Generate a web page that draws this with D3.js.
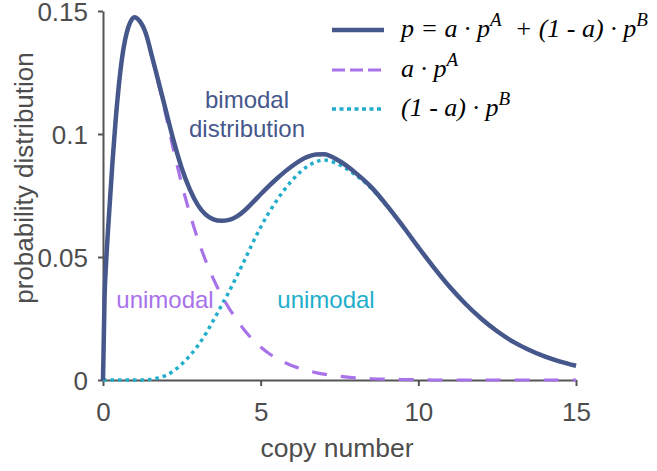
<!DOCTYPE html>
<html>
<head>
<meta charset="utf-8">
<script src="https://cdn.jsdelivr.net/npm/d3@7"></script>
<style>
  html, body { margin: 0; padding: 0; background: #fff; }
  svg { display: block; }
</style>
</head>
<body>
<svg id="chart" width="657" height="471"></svg>
<script>
// copy-number grid shared by all three curves
const copyNumber = [0, 0.05, 0.1, 0.2, 0.3, 0.4, 0.5, 0.6, 0.7, 0.8, 0.9,
  1.0, 1.1, 1.2, 1.3, 1.4, 1.5,
  1.75, 2.0, 2.25, 2.5, 2.75, 3.0, 3.25, 3.5, 3.75, 4.0, 4.25, 4.5, 4.75,
  5.0, 5.25, 5.5, 5.75, 6.0, 6.25, 6.5, 6.75, 7.0,
  7.5, 8.0, 8.5, 9.0, 9.5, 10, 10.5, 11, 11.5, 12, 12.5, 13, 13.5, 14, 14.5, 15];

// p = a·pA + (1 - a)·pB  (bimodal mixture)
const mixture = [0, 0.034, 0.048, 0.069, 0.0885, 0.1055, 0.1195, 0.1305, 0.1382, 0.1433, 0.1463,
  0.1475, 0.1468, 0.1452, 0.1428, 0.1392, 0.1342,
  0.1218, 0.1092, 0.0968, 0.0860, 0.0776, 0.0713, 0.0673, 0.0653, 0.0647, 0.0651, 0.0665, 0.0690, 0.0722,
  0.0755, 0.0787, 0.0817, 0.0845, 0.0870, 0.0892, 0.0908, 0.0917, 0.0918,
  0.0890, 0.0843, 0.0785, 0.0710, 0.0627, 0.0540, 0.0456, 0.0378, 0.0309, 0.0249, 0.0198, 0.0156, 0.0123, 0.0096, 0.0075, 0.0058];

// a·pA  (low copy-number mode)
const componentA = [0, 0.034, 0.048, 0.069, 0.0885, 0.1055, 0.1195, 0.1305, 0.1382, 0.1433, 0.1463,
  0.1475, 0.1468, 0.1452, 0.1428, 0.1391, 0.1340,
  0.1210, 0.1073, 0.0928, 0.0795, 0.0678, 0.0575, 0.0487, 0.0411, 0.0346, 0.0291, 0.0243, 0.0200, 0.0164,
  0.0134, 0.0109, 0.0089, 0.0072, 0.0058, 0.0047, 0.0038, 0.0030, 0.0024,
  0.0015, 0.0009, 0.0005, 0.0003, 0.0002, 0.0001, 0, 0, 0, 0, 0, 0, 0, 0, 0, 0];

// (1 - a)·pB  (high copy-number mode)
const componentB = [0, 0, 0, 0, 0, 0, 0, 0, 0, 0, 0,
  0, 0, 0.00003, 0.00006, 0.0001, 0.0002,
  0.0008, 0.0019, 0.0038, 0.0065, 0.0098, 0.0138, 0.0186, 0.0242, 0.0301, 0.0360, 0.0424, 0.0490, 0.0558,
  0.0621, 0.0678, 0.0728, 0.0773, 0.0812, 0.0845, 0.0870, 0.0887, 0.0894,
  0.0875, 0.0834, 0.0780, 0.0707, 0.0625, 0.0539, 0.0456, 0.0378, 0.0309, 0.0249, 0.0198, 0.0156, 0.0123, 0.0096, 0.0075, 0.0058];

const xTicks = [0, 5, 10, 15];
const xTickLabels = ["0", "5", "10", "15"];
const yTicks = [0, 0.05, 0.1, 0.15];
const yTickLabels = ["0", "0.05", "0.1", "0.15"];

const COLOR_MIX = "#46578c";
const COLOR_A = "#a872ea";
const COLOR_B = "#22aecb";
const AXIS = "#545454";
const SANS = "'Liberation Sans', Arial, Helvetica, sans-serif";
const SERIF = "'Liberation Serif', 'Times New Roman', serif";

const svg = d3.select("#chart");

const x = d3.scaleLinear().domain([0, 15]).range([103, 576]);
const y = d3.scaleLinear().domain([0, 0.15]).range([380, 11]);

// axes
const yAxis = d3.axisLeft(y)
  .tickValues(yTicks)
  .tickFormat((d, i) => yTickLabels[i])
  .tickSize(5).tickSizeOuter(0).tickPadding(10);
const xAxis = d3.axisBottom(x)
  .tickValues(xTicks)
  .tickFormat((d, i) => xTickLabels[i])
  .tickSize(6).tickSizeOuter(0).tickPadding(17);

const gy = svg.append("g").attr("transform", `translate(${x(0)},0)`).call(yAxis);
const gx = svg.append("g").attr("transform", `translate(0,${y(0)})`).call(xAxis);
[gx, gy].forEach(g => {
  g.select(".domain").attr("stroke", AXIS).attr("stroke-width", 2);
  g.selectAll(".tick line").attr("stroke", AXIS).attr("stroke-width", 2);
  g.selectAll(".tick text").attr("fill", "#4d4d4d")
    .style("font-family", SANS).style("font-size", "26px");
});
gy.selectAll(".tick text").attr("dy", "0.36em");

// axis titles
svg.append("text")
  .attr("x", 337).attr("y", 457)
  .attr("text-anchor", "middle")
  .attr("fill", "#4d4d4d").style("font-family", SANS).style("font-size", "26.5px")
  .text("copy number");
svg.append("text")
  .attr("transform", `translate(33,178) rotate(-90)`)
  .attr("text-anchor", "middle")
  .attr("fill", "#4d4d4d").style("font-family", SANS).style("font-size", "26px")
  .text("probability distribution");

// curves
const rows = copyNumber.map((c, i) => ({ c, mix: mixture[i], a: componentA[i], b: componentB[i] }));
const lineFor = key => d3.line()
  .x(d => x(d.c))
  .y(d => y(d[key]))
  .curve(d3.curveMonotoneX);

svg.append("path").datum(rows)
  .attr("d", lineFor("b"))
  .attr("fill", "none").attr("stroke", COLOR_B)
  .attr("stroke-width", 3.5).attr("stroke-dasharray", "3.5,4");
svg.append("path").datum(rows)
  .attr("d", lineFor("a"))
  .attr("fill", "none").attr("stroke", COLOR_A)
  .attr("stroke-width", 3.2).attr("stroke-dasharray", "15,14");
svg.append("path").datum(rows)
  .attr("d", lineFor("mix"))
  .attr("fill", "none").attr("stroke", COLOR_MIX)
  .attr("stroke-width", 4.5).attr("stroke-linejoin", "round");

// annotations
const note = (txt, cx, by, color) => svg.append("text")
  .attr("x", cx).attr("y", by).attr("text-anchor", "middle")
  .attr("fill", color).style("font-family", SANS).style("font-size", "24px")
  .text(txt);
note("bimodal", 247, 108, COLOR_MIX);
note("distribution", 247, 137, COLOR_MIX);
note("unimodal", 165, 308, COLOR_A);
note("unimodal", 326, 308, COLOR_B);

// legend
const legend = svg.append("g");
const legendRows = [
  { y: 30, color: COLOR_MIX, width: 4.5, dash: null },
  { y: 70, color: COLOR_A, width: 3.2, dash: "13,5" },
  { y: 109, color: COLOR_B, width: 3.5, dash: "4,3.5" }
];
legendRows.forEach(r => {
  legend.append("line")
    .attr("x1", 332).attr("x2", 384).attr("y1", r.y).attr("y2", r.y)
    .attr("stroke", r.color).attr("stroke-width", r.width)
    .attr("stroke-dasharray", r.dash);
});

const legendText = (ty, parts) => {
  const t = legend.append("text").attr("x", 401).attr("y", ty)
    .attr("fill", "#000").style("font-family", SERIF).style("font-size", "26px")
    .style("font-style", "italic").attr("xml:space", "preserve");
  parts.forEach(p => {
    const s = t.append("tspan").text(p.t);
    if (p.sup) s.attr("dy", -11).style("font-size", "19px");
    if (p.down) s.attr("dy", 11);
  });
};
legendText(37, [
  { t: "p = a · p" }, { t: "A", sup: true }, { t: "  + (1 - a) · p", down: true }, { t: "B", sup: true }
]);
legendText(77, [{ t: "a · p" }, { t: "A", sup: true }]);
legendText(116, [{ t: "(1 - a) · p" }, { t: "B", sup: true }]);
</script>
</body>
</html>
